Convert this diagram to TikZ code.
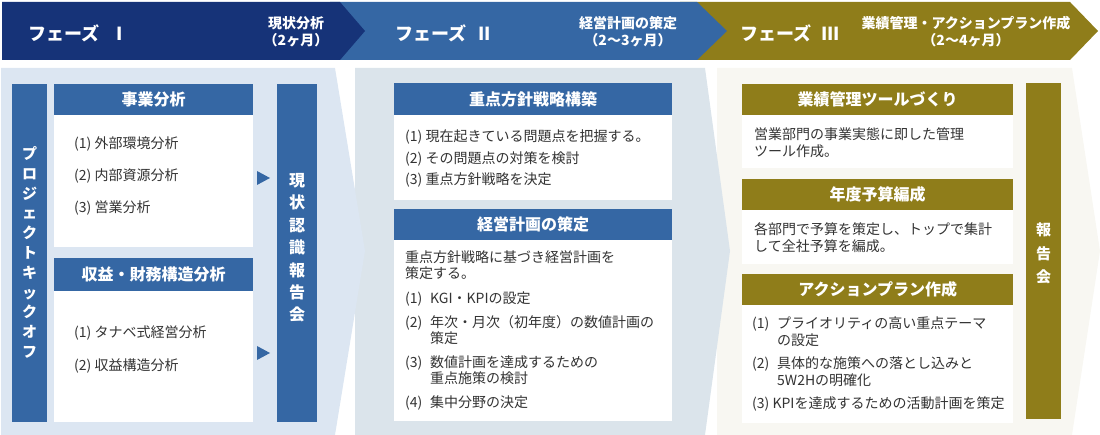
\documentclass[tikz,border=0pt]{standalone}
\usepackage{fontspec}
\setmainfont{Noto Sans CJK JP}
\definecolor{navy}{RGB}{22,51,120}
\definecolor{mblue}{RGB}{53,103,164}
\definecolor{olive}{RGB}{143,125,26}
\definecolor{bgone}{RGB}{220,230,242}
\definecolor{bgtwo}{RGB}{219,228,235}
\definecolor{bgthree}{RGB}{248,247,242}
\definecolor{txtgray}{RGB}{51,51,51}
\tikzset{
  phasetitle/.style={anchor=west, inner sep=0, text=white, font=\bfseries\fontsize{18}{18}\selectfont},
  phasesub/.style={inner sep=0, text=white, align=center, font=\bfseries\fontsize{14}{17}\selectfont},
  hdrbox/.style={anchor=north west, inner sep=0, text=white, font=\bfseries\fontsize{16}{16}\selectfont},
  whitebox/.style={anchor=north west, inner sep=0, fill=white},
  vbar/.style={anchor=north west, inner sep=0},
  vtext/.style={inner sep=0, text=white, align=center},
  item/.style={anchor=west, inner sep=0, text=txtgray, font=\fontsize{14}{16}\selectfont, text height=11pt, text depth=0.4pt},
}
\begin{document}
\begin{tikzpicture}[x=1pt,y=-1pt]
\useasboundingbox (0,0) rectangle (1100,435);
% header bands
\fill[olive] (680,2) -- (1070,2) -- (1098,31) -- (1070,60) -- (680,60) -- cycle;
\fill[mblue] (330,2) -- (697,2) -- (727,31) -- (697,60) -- (330,60) -- cycle;
\fill[navy] (2,2) -- (340,2) -- (365,31) -- (340,60) -- (2,60) -- cycle;
\node[phasetitle] (p1) at (28,33) {フェーズ\hspace{17pt}I};
\node[phasetitle] (p2) at (395,33) {フェーズ\hspace{12pt}II};
\node[phasetitle] (p3) at (740,33) {フェーズ\hspace{10pt}III};
\node[phasesub] (s1) at (296,31.5) {現状分析\\（2ヶ月）};
\node[phasesub] (s2) at (628,31.5) {経営計画の策定\\（2〜3ヶ月）};
\node[phasesub] (s3) at (966,31.5) {業績管理・アクションプラン作成\\（2〜4ヶ月）};
% panels
\fill[bgthree] (717,68) -- (1072,68) -- (1100,251) -- (1072,435) -- (717,435) -- cycle;
\fill[bgtwo] (355,68) -- (705,68) -- (730,251) -- (705,435) -- (355,435) -- cycle;
\fill[bgone] (1,68) -- (335,68) -- (365,251) -- (335,435) -- (1,435) -- cycle;
% ---------- panel 1
\node[vbar, fill=mblue, minimum width=35pt, minimum height=338pt] (kick) at (12,84) {};
\node[vtext, font=\bfseries\fontsize{15}{19.8}\selectfont] (kickt) at (29.5,252.5) {プ\\ロ\\ジ\\ェ\\ク\\ト\\キ\\ッ\\ク\\オ\\フ};
\node[hdrbox, fill=mblue, minimum width=199pt, minimum height=31pt] (h1) at (54,84) {事業分析};
\node[whitebox, minimum width=199pt, minimum height=132pt] (b1) at (54,115) {};
\node[item] (b1a) at (74,143) {(1) 外部環境分析};
\node[item] (b1b) at (74,175) {(2) 内部資源分析};
\node[item] (b1c) at (74,207) {(3) 営業分析};
\node[hdrbox, fill=mblue, minimum width=199pt, minimum height=33pt] (h2) at (54,258) {収益・財務構造分析};
\node[whitebox, minimum width=199pt, minimum height=131pt] (b2) at (54,291) {};
\node[item] (b2a) at (74,332) {(1) タナベ式経営分析};
\node[item] (b2b) at (74,365) {(2) 収益構造分析};
\node[vbar, fill=mblue, minimum width=40pt, minimum height=338pt] (rep) at (277,84) {};
\node[vtext, font=\bfseries\fontsize{16}{22.4}\selectfont] (rept) at (297,248) {現\\状\\認\\識\\報\\告\\会};
\fill[mblue] (257,171) -- (270,178) -- (257,185) -- cycle;
\fill[mblue] (257,346) -- (270,353) -- (257,360) -- cycle;
% ---------- panel 2
\node[hdrbox, fill=mblue, minimum width=278pt, minimum height=32pt] (h3) at (394,83) {重点方針戦略構築};
\node[whitebox, minimum width=278pt, minimum height=85pt] (b3) at (394,115) {};
\node[item] (b3a) at (405,136) {(1) 現在起きている問題点を把握する。};
\node[item] (b3b) at (405,158) {(2) その問題点の対策を検討};
\node[item] (b3c) at (405,179) {(3) 重点方針戦略を決定};
\node[hdrbox, fill=mblue, minimum width=278pt, minimum height=31pt] (h4) at (394,209) {経営計画の策定};
\node[whitebox, minimum width=278pt, minimum height=181pt] (b4) at (394,240) {};
\node[item] (b4a) at (405,257) {重点方針戦略に基づき経営計画を};
\node[item] (b4b) at (405,273) {策定する。};
\node[item] (b4c) at (405,298) {(1)};
\node[item] (b4ct) at (430,298) {KGI・KPIの設定};
\node[item] (b4d) at (405,322) {(2)};
\node[item] (b4dt) at (430,322) {年次・月次（初年度）の数値計画の};
\node[item] (b4dt2) at (430,338) {策定};
\node[item] (b4e) at (405,362) {(3)};
\node[item] (b4et) at (430,362) {数値計画を達成するための};
\node[item] (b4et2) at (430,378) {重点施策の検討};
\node[item] (b4f) at (405,402) {(4)};
\node[item] (b4ft) at (430,402) {集中分野の決定};
% ---------- panel 3
\node[hdrbox, fill=olive, minimum width=271pt, minimum height=31pt] (h5) at (742,84) {業績管理ツールづくり};
\node[whitebox, minimum width=271pt, minimum height=53pt] (b5) at (742,115) {};
\node[item] (b5a) at (754,134) {営業部門の事業実態に即した管理};
\node[item] (b5b) at (754,151) {ツール作成。};
\node[hdrbox, fill=olive, minimum width=271pt, minimum height=31pt] (h6) at (742,179) {年度予算編成};
\node[whitebox, minimum width=271pt, minimum height=54pt] (b6) at (742,210) {};
\node[item] (b6a) at (754,229) {各部門で予算を策定し、トップで集計};
\node[item] (b6b) at (754,246) {して全社予算を編成。};
\node[hdrbox, fill=olive, minimum width=271pt, minimum height=31pt] (h7) at (742,274) {アクションプラン作成};
\node[whitebox, minimum width=271pt, minimum height=118pt] (b7) at (742,305) {};
\node[item] (b7a) at (752,323) {(1)};
\node[item] (b7at) at (777,323) {プライオリティの高い重点テーマ};
\node[item] (b7at2) at (777,340) {の設定};
\node[item] (b7b) at (752,363) {(2)};
\node[item] (b7bt) at (777,363) {具体的な施策への落とし込みと};
\node[item] (b7bt2) at (777,380) {5W2Hの明確化};
\node[item] (b7c) at (752,403) {(3) KPIを達成するための活動計画を策定};
\node[vbar, fill=olive, minimum width=35pt, minimum height=336pt] (rep2) at (1026,83) {};
\node[vtext, font=\bfseries\fontsize{15}{23.5}\selectfont] (rep2t) at (1043.5,253.5) {報\\告\\会};
\end{tikzpicture}
\end{document}
